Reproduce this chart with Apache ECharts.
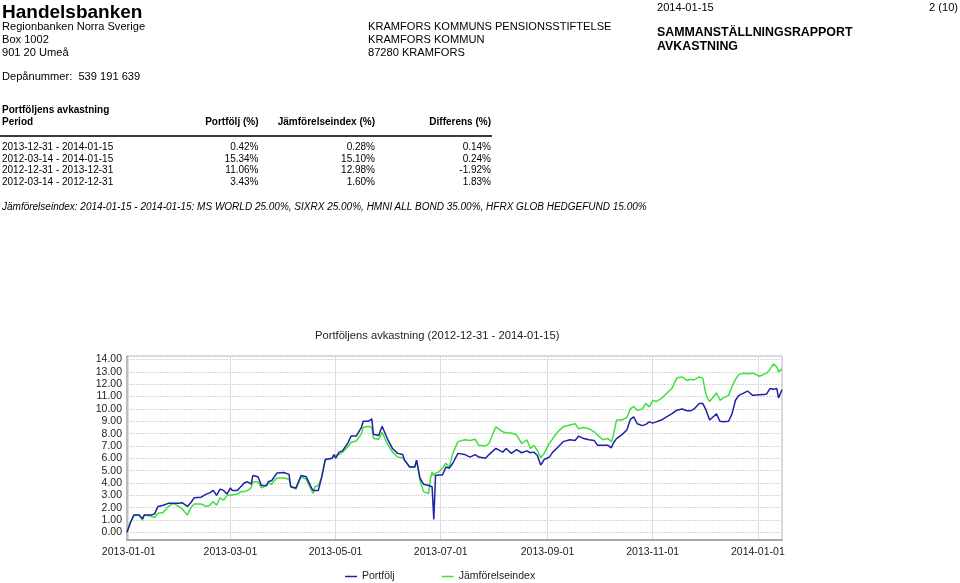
<!DOCTYPE html>
<html><head><meta charset="utf-8">
<script src="https://cdn.jsdelivr.net/npm/echarts@6/dist/echarts.min.js"></script>
<style>
html,body{margin:0;padding:0;background:#fff;}
#page{position:relative;width:960px;height:583px;overflow:hidden;font-family:'Liberation Sans',Arial,sans-serif;color:#000;}
#chart{position:absolute;left:0;top:0;width:960px;height:583px;}
.t{position:absolute;white-space:pre;line-height:1;}
</style></head><body><div id="page"><div id="chart"></div></div>
<script>
// ---- Data ----
const periods = ['2013-12-31 - 2014-01-15', '2012-03-14 - 2014-01-15', '2012-12-31 - 2013-12-31', '2012-03-14 - 2012-12-31'];
const portfoljPct = ['0.42%', '15.34%', '11.06%', '3.43%'];
const indexPct = ['0.28%', '15.10%', '12.98%', '1.60%'];
const diffPct = ['0.14%', '0.24%', '-1.92%', '1.83%'];

const dates = [
'2012-12-31','2013-01-02','2013-01-04','2013-01-07','2013-01-09','2013-01-10','2013-01-14','2013-01-16','2013-01-18','2013-01-21',
'2013-01-24','2013-01-27','2013-01-30','2013-02-01','2013-02-04','2013-02-06','2013-02-08','2013-02-12','2013-02-15','2013-02-17',
'2013-02-19','2013-02-21','2013-02-23','2013-02-25','2013-02-27','2013-03-01','2013-03-02','2013-03-05','2013-03-07','2013-03-09',
'2013-03-11','2013-03-13','2013-03-14','2013-03-17','2013-03-19','2013-03-22','2013-03-23','2013-03-25','2013-03-26','2013-03-28',
'2013-04-01','2013-04-02','2013-04-04','2013-04-05','2013-04-08','2013-04-11','2013-04-14','2013-04-17','2013-04-18','2013-04-19',
'2013-04-21','2013-04-23','2013-04-25','2013-04-29','2013-04-30','2013-05-01','2013-05-03','2013-05-05','2013-05-08','2013-05-10',
'2013-05-13','2013-05-16','2013-05-17','2013-05-20','2013-05-22','2013-05-23','2013-05-26','2013-05-28','2013-05-31','2013-06-03',
'2013-06-06','2013-06-09','2013-06-10','2013-06-13','2013-06-16','2013-06-17','2013-06-19','2013-06-21','2013-06-24','2013-06-25',
'2013-06-26','2013-06-27','2013-06-28','2013-06-30','2013-07-02','2013-07-04','2013-07-06','2013-07-08','2013-07-11','2013-07-15',
'2013-07-18','2013-07-21','2013-07-23','2013-07-27','2013-07-29','2013-08-02','2013-08-06','2013-08-08','2013-08-11','2013-08-14',
'2013-08-17','2013-08-20','2013-08-22','2013-08-24','2013-08-26','2013-08-28','2013-08-30','2013-09-02','2013-09-04','2013-09-07',
'2013-09-10','2013-09-14','2013-09-17','2013-09-19','2013-09-22','2013-09-25','2013-09-28','2013-09-30','2013-10-03','2013-10-06',
'2013-10-08','2013-10-09','2013-10-11','2013-10-14','2013-10-17','2013-10-19','2013-10-21','2013-10-23','2013-10-26','2013-10-28',
'2013-10-30','2013-11-01','2013-11-03','2013-11-06','2013-11-09','2013-11-12','2013-11-15','2013-11-18','2013-11-21','2013-11-23',
'2013-11-25','2013-11-28','2013-11-30','2013-12-02','2013-12-04','2013-12-06','2013-12-08','2013-12-10','2013-12-12','2013-12-15',
'2013-12-17','2013-12-19','2013-12-21','2013-12-24','2013-12-26','2013-12-29','2014-01-02','2014-01-06','2014-01-08','2014-01-10',
'2014-01-12','2014-01-13','2014-01-15'
];
const portfolj = [
0,0.8,1.4,1.4,1.1,1.4,1.4,1.5,2.1,2.2,
2.35,2.35,2.35,2.4,2.1,2.4,2.8,2.85,3.1,3.2,
3.4,3.0,3.5,3.4,3.1,3.6,3.4,3.4,3.7,4.0,
4.1,3.9,4.6,4.5,3.8,3.8,4.1,4.2,4.35,4.8,
4.85,4.95,4.7,3.7,3.6,4.6,4.5,3.6,3.4,3.35,
3.4,4.5,5.9,6.0,6.3,6.0,6.5,6.6,7.2,7.8,
7.8,8.5,9.0,9.0,9.2,7.95,7.85,8.6,7.6,6.8,
6.4,6.3,5.85,5.3,5.3,5.85,4.4,3.9,3.8,3.8,
3.7,1.05,4.6,4.65,4.65,5.3,5.2,5.6,6.4,6.3,
6.1,6.3,6.1,6.0,6.3,6.8,6.5,6.8,6.4,6.7,
6.45,6.6,6.45,6.5,6.25,5.45,5.9,6.1,6.5,6.9,
7.35,7.5,7.45,7.8,7.6,7.5,7.45,7.05,7.05,7.05,
6.85,7.2,7.6,7.9,8.3,9.15,9.35,8.8,8.65,8.75,
8.95,8.85,8.95,9.1,9.35,9.6,9.9,10.0,9.85,9.85,
10.0,10.45,10.45,9.9,9.1,9.35,9.6,9.0,8.97,9.0,
9.6,10.7,11.1,11.3,11.45,11.1,11.15,11.2,11.65,11.6,
11.65,10.9,11.55
];
const jamforelseindex = [
0,0.8,1.4,1.4,1.0,1.4,1.3,1.2,1.55,1.6,
2.1,2.35,2.1,1.9,1.4,2.0,2.3,2.3,2.1,2.2,
2.5,2.2,2.8,2.6,3.0,3.0,3.0,3.1,3.3,3.3,
3.4,3.6,4.1,4.1,3.6,3.8,4.0,3.9,4.1,4.4,
4.4,4.5,4.3,3.7,3.5,4.5,4.3,3.4,3.15,3.7,
3.8,4.5,5.9,6.0,6.2,6.2,6.3,6.5,6.9,7.3,
7.4,8.0,8.5,8.6,8.5,7.6,7.55,8.1,7.2,6.5,
6.1,6.05,5.95,5.3,5.3,5.85,4.2,3.3,3.15,4.3,
4.9,4.6,4.8,4.9,5.2,5.6,5.3,6.4,7.35,7.5,
7.45,7.55,7.05,7.0,7.2,8.55,8.15,8.05,8.05,7.9,
7.2,7.5,6.8,7.05,6.65,6.05,6.4,7.2,7.6,8.15,
8.55,8.7,8.8,8.4,8.5,8.4,8.15,7.9,7.5,7.6,
7.35,7.75,9.1,9.1,9.3,10.0,10.2,9.9,10.0,10.45,
10.15,10.7,10.6,10.85,11.25,11.65,12.5,12.6,12.3,12.4,
12.35,12.6,12.5,11.1,10.6,10.95,11.3,10.7,10.9,11.1,
11.8,12.4,12.8,12.9,12.85,12.9,12.65,12.9,13.2,13.65,
13.4,13.0,13.25
];
const yTicks = [0,1,2,3,4,5,6,7,8,9,10,11,12,13,14];
const xTicks = ['2013-01-01','2013-03-01','2013-05-01','2013-07-01','2013-09-01','2013-11-01','2014-01-01'];
const xRange = ['2012-12-31', '2014-01-15'];

// ---- Header / table as HTML text ----
const page = document.getElementById('page');
function txt(s, x, baseline, size, opts) {
  opts = opts || {};
  const d = document.createElement('div');
  d.className = 't';
  d.textContent = s;
  d.style.fontSize = size + 'px';
  d.style.top = (baseline - 0.8465 * size) + 'px';
  if (opts.bold) d.style.fontWeight = 'bold';
  if (opts.italic) d.style.fontStyle = 'italic';
  d.style.left = x + 'px';
  if (opts.right) d.style.transform = 'translateX(-100%)';
  page.appendChild(d);
}
txt('Handelsbanken', 2, 18.3, 19, {bold: true});
txt('Regionbanken Norra Sverige', 2, 30.5, 11.1);
txt('Box 1002', 2, 43.5, 11.1);
txt('901 20 Umeå', 2, 56.5, 11.1);
txt('Depånummer:  539 191 639', 2, 80.5, 11.1);
txt('KRAMFORS KOMMUNS PENSIONSSTIFTELSE', 368, 30.5, 11.1);
txt('KRAMFORS KOMMUN', 368, 43.5, 11.1);
txt('87280 KRAMFORS', 368, 56.5, 11.1);
txt('2014-01-15', 657, 11, 11.1);
txt('2 (10)', 958, 11, 11.1, {right: true});
txt('SAMMANSTÄLLNINGSRAPPORT', 657, 36, 12.4, {bold: true});
txt('AVKASTNING', 657, 50, 12.4, {bold: true});

txt('Portföljens avkastning', 2, 113.3, 10, {bold: true});
txt('Period', 2, 125, 10, {bold: true});
txt('Portfölj (%)', 258.5, 125, 10, {bold: true, right: true});
txt('Jämförelseindex (%)', 375, 125, 10, {bold: true, right: true});
txt('Differens (%)', 491, 125, 10, {bold: true, right: true});
const rule = document.createElement('div');
rule.style.cssText = 'position:absolute;left:0;top:134.5px;width:492px;height:2.5px;background:#3a3a3a;';
page.appendChild(rule);
periods.forEach((p, i) => {
  const b = 150.3 + i * 11.8;
  txt(p, 2, b, 10);
  txt(portfoljPct[i], 258.5, b, 10, {right: true});
  txt(indexPct[i], 375, b, 10, {right: true});
  txt(diffPct[i], 491, b, 10, {right: true});
});
txt('Jämförelseindex: 2014-01-15 - 2014-01-15: MS WORLD 25.00%, SIXRX 25.00%, HMNI ALL BOND 35.00%, HFRX GLOB HEDGEFUND 15.00%', 2, 210.6, 10, {italic: true});

// ---- Chart ----
const FONT = "'Liberation Sans', Arial, sans-serif";
const pad = n => (n < 10 ? '0' : '') + n;
const ts = s => { const p = s.split('-').map(Number); return Date.UTC(p[0], p[1] - 1, p[2]); };
const fmtDate = v => { const d = new Date(v); return d.getUTCFullYear() + '-' + pad(d.getUTCMonth() + 1) + '-' + pad(d.getUTCDate()); };
const xTickVals = xTicks.map(ts);

const chart = echarts.init(document.getElementById('chart'), null, {renderer: 'canvas'});
chart.setOption({
  animation: false,
  backgroundColor: 'transparent',
  title: {
    text: 'Portföljens avkastning (2012-12-31 - 2014-01-15)',
    left: 315, top: 330, padding: 0,
    textStyle: {fontSize: 11.2, fontWeight: 'normal', color: '#222', fontFamily: FONT, lineHeight: 12}
  },
  legend: {
    left: 345, top: 571, padding: 0,
    icon: 'rect', itemWidth: 12, itemHeight: 1.5, itemGap: 47,
    textStyle: {fontSize: 10.5, color: '#222', fontFamily: FONT},
    data: ['Portfölj', 'Jämförelseindex']
  },
  grid: {left: 127, right: 178, top: 356, bottom: 43, show: true, borderColor: '#b4b4b4', borderWidth: 1, backgroundColor: '#fff'},
  xAxis: {
    type: 'value', min: ts(xRange[0]), max: ts(xRange[1]),
    axisLine: {show: true, onZero: false, lineStyle: {color: '#aaaaaa', width: 2}},
    axisTick: {show: false, customValues: xTickVals},
    axisLabel: {
      customValues: xTickVals, margin: 7, fontSize: 10.5, color: '#222', fontFamily: FONT,
      formatter: v => fmtDate(v)
    },
    splitLine: {show: true, lineStyle: {color: '#dcdcdc', width: 1}}
  },
  yAxis: {
    type: 'value', min: -0.62, max: 14.29,
    axisLine: {show: true, onZero: false, lineStyle: {color: '#b4b4b4', width: 1.5}},
    axisTick: {show: false, customValues: yTicks},
    axisLabel: {customValues: yTicks, margin: 5, fontSize: 10.5, color: '#222', fontFamily: FONT, formatter: v => v.toFixed(2)},
    splitLine: {show: true, lineStyle: {color: '#d6d6d6', width: 1, type: [2, 1]}}
  },
  series: [
    {name: 'Portfölj', type: 'line', showSymbol: false, symbol: 'none', z: 3,
     lineStyle: {color: '#2121a8', width: 1.5}, itemStyle: {color: '#2121a8'},
     data: dates.map((d, i) => [ts(d), portfolj[i]])},
    {name: 'Jämförelseindex', type: 'line', showSymbol: false, symbol: 'none', z: 2,
     lineStyle: {color: '#3ee03e', width: 1.5}, itemStyle: {color: '#3ee03e'},
     data: dates.map((d, i) => [ts(d), jamforelseindex[i]])}
  ]
});
</script></body></html>
